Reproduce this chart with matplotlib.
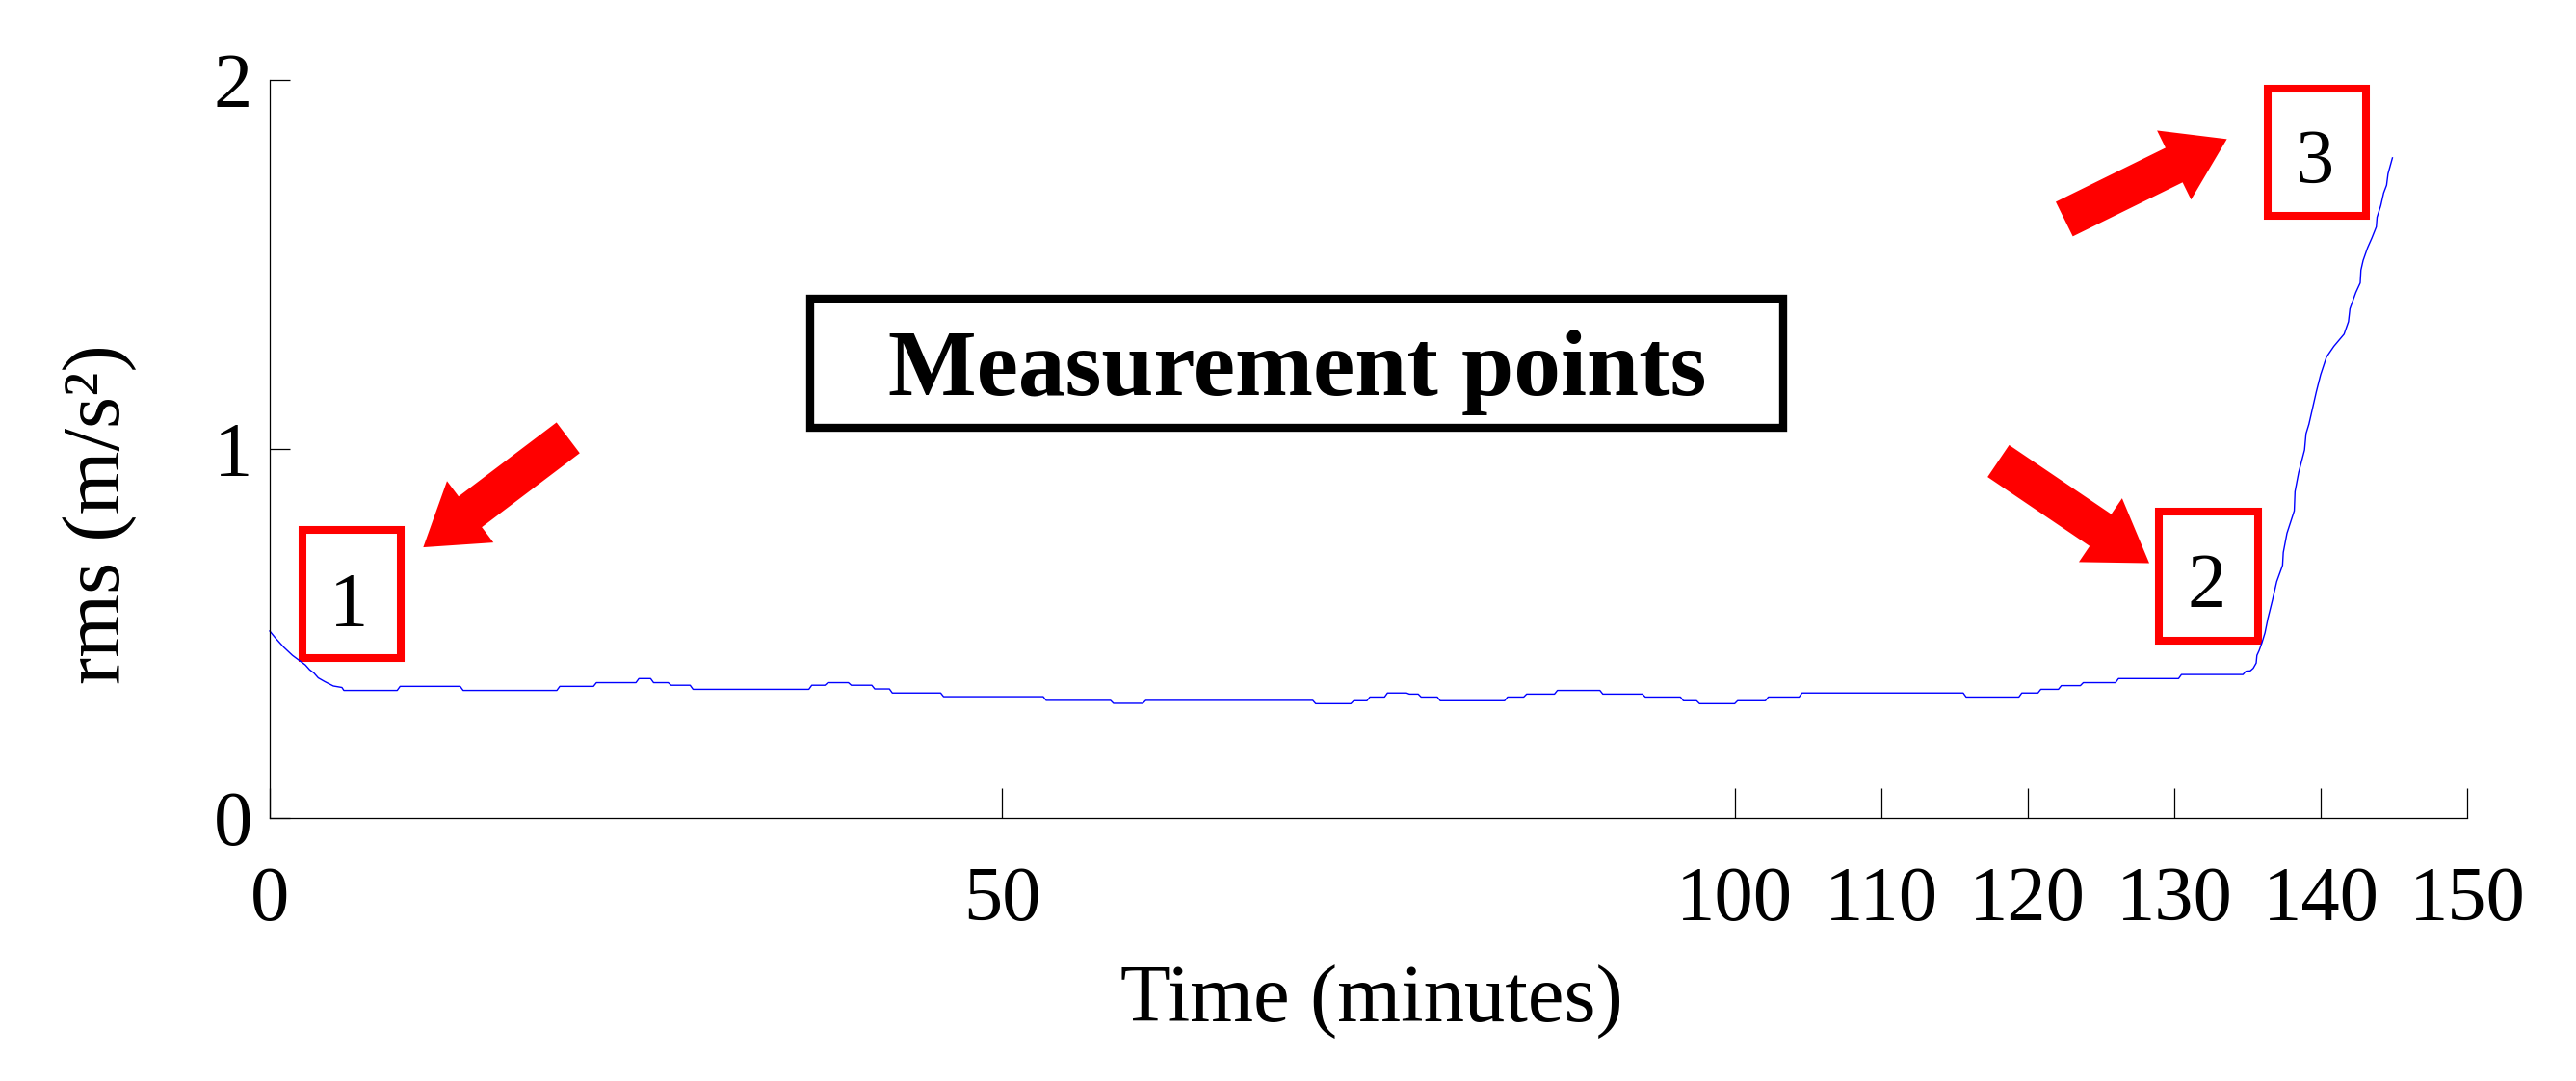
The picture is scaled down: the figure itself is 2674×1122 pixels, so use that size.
"""RMS vibration over time with the three measurement points marked."""

import matplotlib.pyplot as plt
from matplotlib.patches import FancyArrowPatch, Rectangle

# rms trace (minutes, m/s^2)
time_min = [
    0.0, 0.37, 0.66, 0.96, 1.55, 1.99, 2.43, 2.72, 3.02, 3.31, 3.75, 4.34, 4.93, 5.06,
    8.7, 8.9, 13.0, 13.2, 19.6, 19.8, 22.1, 22.3, 25.0, 25.2, 26.0, 26.2, 27.2, 27.4,
    28.7, 28.9, 36.8, 37.0, 37.9, 38.1, 39.5, 39.7, 41.1, 41.3, 42.3, 42.5, 45.8, 46.0,
    52.8, 53.0, 57.4, 57.6, 59.6, 59.8, 71.2, 71.4, 73.8, 74.0, 74.9, 75.1, 76.1, 76.3,
    77.6, 77.8, 78.4, 78.6, 79.7, 79.9, 84.3, 84.5, 85.6, 85.8, 87.7, 87.9, 90.8, 91.0,
    93.7, 93.9, 96.3, 96.5, 97.4, 97.6, 100.0, 100.2, 102.1, 102.3, 104.4, 104.6, 115.6,
    115.8, 119.4, 119.6, 120.7, 120.9, 122.1, 122.3, 123.6, 123.8, 126.0, 126.2, 130.3,
    130.5, 134.7, 134.9, 135.2, 135.4, 135.6, 135.65, 135.8, 136.0, 136.2, 136.4, 136.7,
    137.0, 137.4, 137.45, 137.7, 138.2, 138.25, 138.5, 138.9, 139.0, 139.2, 139.7, 140.0,
    140.4, 140.9, 141.6, 141.9, 142.0, 142.4, 142.7, 142.75, 142.9, 143.2, 143.5, 143.8,
    143.85, 144.1, 144.3, 144.5, 144.6, 144.9,
]
rms = [
    0.507, 0.489, 0.476, 0.463, 0.441, 0.428, 0.415, 0.402, 0.393, 0.380, 0.370, 0.358,
    0.354, 0.346, 0.346, 0.357, 0.357, 0.346, 0.346, 0.357, 0.357, 0.367, 0.367, 0.378,
    0.378, 0.367, 0.367, 0.360, 0.360, 0.349, 0.349, 0.360, 0.360, 0.367, 0.367, 0.360,
    0.360, 0.350, 0.350, 0.339, 0.339, 0.329, 0.329, 0.319, 0.319, 0.311, 0.311, 0.319,
    0.319, 0.310, 0.310, 0.318, 0.318, 0.328, 0.328, 0.339, 0.339, 0.336, 0.336, 0.328,
    0.328, 0.318, 0.318, 0.328, 0.328, 0.336, 0.336, 0.346, 0.346, 0.336, 0.336, 0.328,
    0.328, 0.318, 0.318, 0.310, 0.310, 0.318, 0.318, 0.328, 0.328, 0.339, 0.339, 0.328,
    0.328, 0.339, 0.339, 0.349, 0.349, 0.359, 0.359, 0.367, 0.367, 0.378, 0.378, 0.389,
    0.389, 0.398, 0.399, 0.406, 0.420, 0.441, 0.454, 0.476, 0.502, 0.541, 0.589, 0.641,
    0.685, 0.720, 0.772, 0.833, 0.885, 0.937, 0.998, 1.042, 1.068, 1.155, 1.202, 1.250,
    1.279, 1.312, 1.346, 1.381, 1.425, 1.451, 1.486, 1.512, 1.546, 1.573, 1.603, 1.629,
    1.660, 1.695, 1.716, 1.747, 1.790,
]

x_ticks = [0, 50, 100, 110, 120, 130, 140, 150]
y_ticks = [0, 1, 2]

# measurement point labels: number, box (t0, t1, v0, v1), text anchor (t, v)
point_labels = ["1", "2", "3"]
point_boxes = [
    (2.24, 8.94, 0.433, 0.781),
    (128.95, 135.7, 0.482, 0.830),
    (136.4, 143.1, 1.633, 1.978),
]
point_text_pos = [(5.41, 0.521), (132.22, 0.572), (139.63, 1.723)]
# arrows: (tail t, tail v) -> (tip t, tip v)
arrow_tails = [(20.37, 1.031), (118.0, 0.968), (122.5, 1.624)]
arrow_tips = [(10.48, 0.734), (128.3, 0.691), (133.6, 1.841)]

title_box = (36.92, 103.3, 1.057, 1.409)
title_text = "Measurement points"
title_pos = (70.13, 1.146)

plt.rcParams["font.family"] = ["Liberation Serif", "DejaVu Serif"]

fig = plt.figure(figsize=(26.74, 11.22), dpi=100)
ax = fig.add_axes([0.10471, 0.24332, 0.85303, 0.68226])

ax.plot(time_min, rms, color="#0000ff", linewidth=1.0, clip_on=False)

ax.set_xlim(0, 150)
ax.set_ylim(0, 2)
ax.set_xticks(x_ticks)
ax.set_yticks(y_ticks)
ax.spines["top"].set_visible(False)
ax.spines["right"].set_visible(False)
for side in ("left", "bottom"):
    ax.spines[side].set_linewidth(0.9)
ax.tick_params(axis="both", direction="in", width=0.9, labelsize=58)
ax.tick_params(axis="x", length=22, pad=36)
ax.tick_params(axis="y", length=15, pad=13)

ax.set_xlabel("Time (minutes)", fontsize=61, va="center")
ax.xaxis.set_label_coords(0.5015, -0.2495)
ax.set_ylabel("rms (m/s²)", fontsize=61, va="center")
ax.yaxis.set_label_coords(-0.0772, 0.4115)

# black title box
t0, t1, v0, v1 = title_box
ax.add_patch(Rectangle((t0, v0), t1 - t0, v1 - v0, fill=False, edgecolor="black",
                       linewidth=6, clip_on=False))
ax.text(title_pos[0], title_pos[1], title_text, fontsize=70, fontweight="bold",
        ha="center", va="baseline")

# red numbered boxes and arrows
for label, box, pos, tail, tip in zip(point_labels, point_boxes, point_text_pos,
                                      arrow_tails, arrow_tips):
    t0, t1, v0, v1 = box
    ax.add_patch(Rectangle((t0, v0), t1 - t0, v1 - v0, fill=False, edgecolor="#ff0000",
                           linewidth=5.8, clip_on=False))
    ax.text(pos[0], pos[1], label, fontsize=58, ha="center", va="baseline")
    ax.add_patch(FancyArrowPatch(
        tail, tip,
        arrowstyle="simple,head_length=44,head_width=57.6,tail_width=28.8",
        mutation_scale=1, shrinkA=0, shrinkB=0,
        color="#ff0000", linewidth=0, clip_on=False,
    ))

fig.savefig("out.png", dpi=100)
plt.close(fig)
